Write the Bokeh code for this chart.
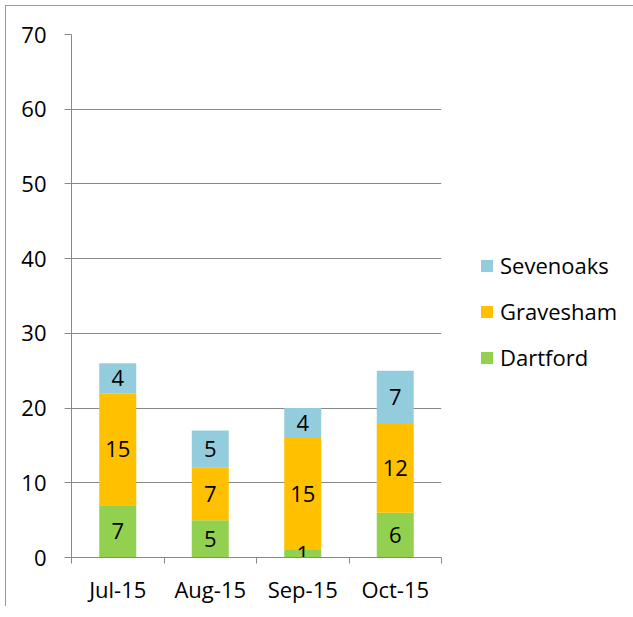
from bokeh.plotting import figure
from bokeh.models import Range1d, FixedTicker, Legend, LegendItem, ColumnDataSource
from bokeh.core.properties import value
from bokeh.embed import file_html
from bokeh.resources import INLINE

months = ["Jul-15", "Aug-15", "Sep-15", "Oct-15"]
series = ["Dartford", "Gravesham", "Sevenoaks"]
dartford = [7, 5, 1, 6]
gravesham = [15, 7, 15, 12]
sevenoaks = [4, 5, 4, 7]
colors = ["#92D050", "#FFC000", "#93CDDD"]
y_ticks = [0, 10, 20, 30, 40, 50, 60, 70]

FONT = "Open Sans"
FS = "22px"
GRID = "#888888"

xpos = [i + 0.5 for i in range(len(months))]
data = {"x": xpos, "Dartford": dartford, "Gravesham": gravesham, "Sevenoaks": sevenoaks}
src = ColumnDataSource(data)

p = figure(width=612, height=596, output_backend="svg", toolbar_location=None,
           x_range=Range1d(0, len(months)), y_range=Range1d(0, 70),
           frame_width=370, frame_height=523,
           min_border_left=65, min_border_top=28, min_border_right=177, min_border_bottom=45)
p.outline_line_color = None
p.background_fill_color = "white"
p.border_fill_color = "white"
p.styles = {"border-left": "1px solid #999999", "border-top": "1px solid #999999",
            "margin-left": "5px", "margin-top": "5px"}

renderers = p.vbar_stack(series, x="x", width=0.4, source=src, color=colors,
                         line_color=None)

# segment labels
bottoms = [0] * len(months)
for vals in (dartford, gravesham, sevenoaks):
    ys = [b + v / 2 for b, v in zip(bottoms, vals)]
    p.text(x=xpos, y=ys, text=[str(v) for v in vals], text_align="center",
           text_baseline="middle", text_font=value(FONT), text_font_size=FS,
           text_color="#000000")
    bottoms = [b + v for b, v in zip(bottoms, vals)]

# axes
p.xaxis.ticker = FixedTicker(ticks=xpos, minor_ticks=list(range(len(months) + 1)))
p.xaxis.major_label_overrides = {x: m for x, m in zip(xpos, months)}
p.xaxis.major_tick_out = 0
p.xaxis.major_tick_in = 0
p.xaxis.minor_tick_out = 6
p.xaxis.minor_tick_in = 0
p.xaxis.minor_tick_line_color = GRID
p.xaxis.axis_line_color = GRID
p.xaxis.major_label_standoff = 10

p.yaxis.ticker = FixedTicker(ticks=y_ticks)
p.yaxis.major_tick_out = 7
p.yaxis.major_tick_in = 0
p.yaxis.minor_tick_line_color = None
p.yaxis.major_tick_line_color = GRID
p.yaxis.axis_line_color = GRID
p.yaxis.major_label_standoff = 18

for ax in (p.xaxis, p.yaxis):
    ax.major_label_text_font = FONT
    ax.major_label_text_font_size = FS
    ax.major_label_text_color = "#000000"

p.xgrid.grid_line_color = None
p.ygrid.ticker = FixedTicker(ticks=y_ticks)
p.ygrid.grid_line_color = GRID

items = [LegendItem(label=s, renderers=[r]) for s, r in zip(series, renderers)][::-1]
legend = Legend(items=items, location=(38, 185), orientation="vertical",
                glyph_width=15, glyph_height=15, label_standoff=6, spacing=16,
                padding=0, margin=0, border_line_color=None, background_fill_alpha=0,
                label_text_font=FONT, label_text_font_size=FS, label_text_color="#000000")
p.add_layout(legend, "right")

open("out.html", "w").write(file_html(p, INLINE))
